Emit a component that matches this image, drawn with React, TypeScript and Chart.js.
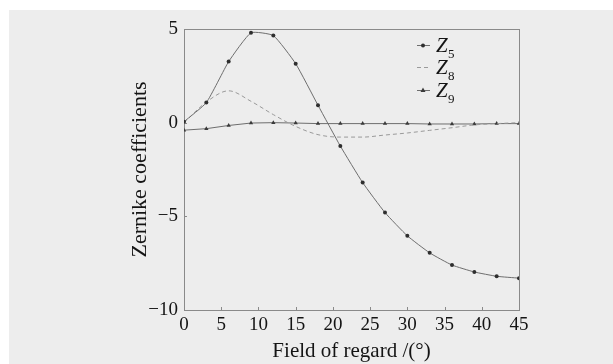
import React, { useEffect, useRef } from "react";
import { Chart, registerables } from "chart.js";

Chart.register(...registerables);

const fieldAngles = [0, 3, 6, 9, 12, 15, 18, 21, 24, 27, 30, 33, 36, 39, 42, 45];
const z5Values = [0.05, 1.07, 3.26, 4.8, 4.65, 3.15, 0.93, -1.25, -3.2, -4.8, -6.04, -6.95, -7.6, -7.97, -8.2, -8.3];
const z8Values = [0, 1.1, 1.7, 1.14, 0.43, -0.2, -0.64, -0.77, -0.77, -0.66, -0.55, -0.41, -0.27, -0.12, -0.05, 0];
const z9Values = [-0.4, -0.32, -0.15, -0.02, 0, -0.02, -0.05, -0.05, -0.05, -0.05, -0.05, -0.07, -0.07, -0.07, -0.05, -0.05];
const legendSubscripts = ["5", "8", "9"];
const xTickValues = [0, 5, 10, 15, 20, 25, 30, 35, 40, 45];
const yTickValues = [-10, -5, 0, 5];

const SERIF = "'Liberation Serif', 'Times New Roman', serif";
const TEXT = "#141414";

const bgPlugin = {
  id: "bg",
  beforeDraw(chart: any) {
    const { ctx, width, height } = chart;
    ctx.save();
    ctx.fillStyle = "#ffffff";
    ctx.fillRect(0, 0, width, height);
    ctx.fillStyle = "#ededed";
    ctx.fillRect(9, 10, width - 9, height - 10);
    ctx.restore();
  },
};

const framePlugin = {
  id: "frame",
  beforeDatasetsDraw(chart: any) {
    const { ctx, chartArea } = chart;
    const { left, right, top, bottom } = chartArea;
    const xs = chart.scales.x;
    const ys = chart.scales.y;
    ctx.save();
    ctx.strokeStyle = "#8a8a8a";
    ctx.lineWidth = 1;
    ctx.strokeRect(Math.round(left) + 0.5, Math.round(top) + 0.5, Math.round(right - left), Math.round(bottom - top));
    ctx.beginPath();
    xTickValues.forEach((v) => {
      const px = Math.round(xs.getPixelForValue(v)) + 0.5;
      ctx.moveTo(px, bottom);
      ctx.lineTo(px, bottom - 3);
    });
    yTickValues.forEach((v) => {
      const py = Math.round(ys.getPixelForValue(v)) + 0.5;
      ctx.moveTo(left, py);
      ctx.lineTo(left + 3, py);
    });
    ctx.stroke();
    ctx.restore();
  },
};

const legendPlugin = {
  id: "subLegend",
  afterDraw(chart: any) {
    const { ctx } = chart;
    const ys = [45, 67, 90];
    ctx.save();
    chart.data.datasets.forEach((ds: any, i: number) => {
      const y = ys[i];
      ctx.strokeStyle = ds.borderColor;
      ctx.lineWidth = 1;
      ctx.setLineDash(ds.borderDash || []);
      ctx.beginPath();
      ctx.moveTo(417, y + 0.5);
      ctx.lineTo(430, y + 0.5);
      ctx.stroke();
      ctx.setLineDash([]);
      if (ds.pointRadius > 0) {
        ctx.fillStyle = ds.pointBackgroundColor;
        if (ds.pointStyle === "triangle") {
          ctx.beginPath();
          ctx.moveTo(423, y - 2.5);
          ctx.lineTo(425.5, y + 2);
          ctx.lineTo(420.5, y + 2);
          ctx.closePath();
          ctx.fill();
        } else {
          ctx.beginPath();
          ctx.arc(423, y + 0.5, 2, 0, Math.PI * 2);
          ctx.fill();
        }
      }
      ctx.fillStyle = TEXT;
      ctx.textBaseline = "alphabetic";
      ctx.textAlign = "left";
      ctx.font = `italic 21px ${SERIF}`;
      ctx.fillText("Z", 436, y + 7);
      ctx.font = `13px ${SERIF}`;
      ctx.fillText(legendSubscripts[i], 448, y + 13);
    });
    ctx.restore();
  },
};

export default function App() {
  const ref = useRef<HTMLCanvasElement | null>(null);

  useEffect(() => {
    document.body.style.margin = "0";
    document.body.style.overflow = "hidden";
    const canvas = ref.current;
    if (!canvas) return;
    const mk = (vals: number[]) => fieldAngles.map((x, i) => ({ x, y: vals[i] }));
    const chart = new Chart(canvas, {
      type: "line",
      data: {
        datasets: [
          {
            label: "Z5",
            data: mk(z5Values),
            borderColor: "#6e6e6e",
            borderWidth: 1,
            pointRadius: 2,
            pointStyle: "circle",
            pointBackgroundColor: "#2e2e2e",
            pointBorderColor: "#2e2e2e",
            pointBorderWidth: 0,
            tension: 0.15,
          },
          {
            label: "Z8",
            data: mk(z8Values),
            borderColor: "#9a9a9a",
            borderWidth: 1,
            borderDash: [4, 3],
            pointRadius: 0,
            cubicInterpolationMode: "monotone",
          },
          {
            label: "Z9",
            data: mk(z9Values),
            borderColor: "#6e6e6e",
            borderWidth: 1,
            pointRadius: 2.5,
            pointStyle: "triangle",
            pointBackgroundColor: "#3a3a3a",
            pointBorderColor: "#3a3a3a",
            pointBorderWidth: 0,
            tension: 0,
          },
        ] as any,
      },
      options: {
        animation: false,
        responsive: false,
        devicePixelRatio: 1,
        layout: { padding: { left: 125, right: 94, top: 29, bottom: 0 } },
        plugins: { legend: { display: false }, tooltip: { enabled: false } },
        scales: {
          x: {
            type: "linear",
            min: 0,
            max: 45,
            afterFit: (s: any) => {
              s.height = 54;
            },
            afterBuildTicks: (s: any) => {
              s.ticks = xTickValues.map((v) => ({ value: v }));
            },
            grid: { display: false, drawTicks: false },
            border: { display: false },
            ticks: {
              padding: 4,
              color: TEXT,
              font: { family: SERIF, size: 19 },
              maxRotation: 0,
              autoSkip: false,
            },
            title: {
              display: true,
              text: "Field of regard /(°)",
              color: TEXT,
              font: { family: SERIF, size: 21 },
              padding: { top: 0, bottom: 0 },
            },
          },
          y: {
            type: "linear",
            min: -10,
            max: 5,
            afterFit: (s: any) => {
              s.width = 59;
            },
            afterBuildTicks: (s: any) => {
              s.ticks = yTickValues.map((v) => ({ value: v }));
            },
            grid: { display: false, drawTicks: false },
            border: { display: false },
            ticks: {
              padding: 6,
              color: TEXT,
              font: { family: SERIF, size: 19 },
              callback: (v: any) => String(v).replace("-", "\u2212"),
            },
            title: {
              display: true,
              text: "Zernike coefficients",
              color: TEXT,
              font: { family: SERIF, size: 22 },
              padding: { top: 2, bottom: 0 },
            },
          },
        },
      },
      plugins: [bgPlugin, framePlugin, legendPlugin],
    });
    return () => chart.destroy();
  }, []);

  return <canvas ref={ref} width={613} height={364} style={{ display: "block", width: 613, height: 364 }} />;
}
